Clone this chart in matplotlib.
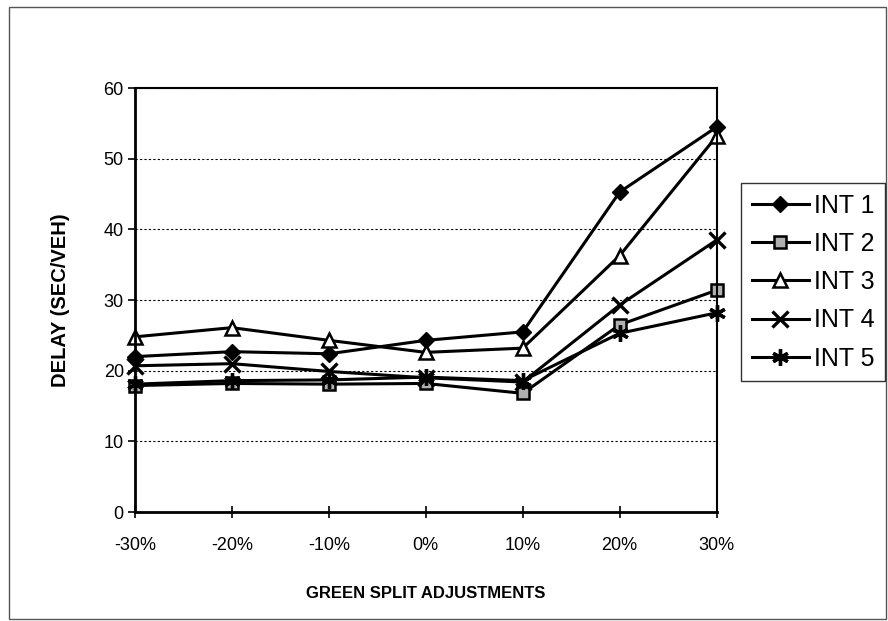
import matplotlib
matplotlib.use("Agg")
import matplotlib.pyplot as plt
from matplotlib.patches import Rectangle

categories = ["-30%", "-20%", "-10%", "0%", "10%", "20%", "30%"]
int1 = [22.0, 22.7, 22.4, 24.3, 25.5, 45.3, 54.5]
int2 = [17.9, 18.2, 18.1, 18.2, 16.8, 26.5, 31.4]
int3 = [24.8, 26.1, 24.3, 22.6, 23.2, 36.3, 53.2]
int4 = [20.7, 21.0, 19.9, 19.0, 18.4, 29.3, 38.5]
int5 = [18.1, 18.6, 18.7, 19.1, 18.6, 25.3, 28.2]
series_names = ["INT 1", "INT 2", "INT 3", "INT 4", "INT 5"]
yticks = [0, 10, 20, 30, 40, 50, 60]

plt.rcParams['font.family'] = ['Liberation Sans', 'DejaVu Sans']

fig = plt.figure(figsize=(8.88, 6.21), dpi=100)
ax = fig.add_axes([0.152, 0.1755, 0.655, 0.6825])

x = list(range(len(categories)))
styles = [
    dict(marker='D', markersize=8, markerfacecolor='black', markeredgecolor='black'),
    dict(marker='s', markersize=9, markerfacecolor='#b0b0b0', markeredgecolor='black', markeredgewidth=1.8),
    dict(marker='^', markersize=10, markerfacecolor='white', markeredgecolor='black', markeredgewidth=1.8),
    dict(marker='x', markersize=11, markeredgecolor='black', markeredgewidth=2.4),
    dict(marker=(6, 2, 0), markersize=12, markeredgecolor='black', markeredgewidth=2.4),
]
for vals, name, st in zip([int1, int2, int3, int4, int5], series_names, styles):
    ax.plot(x, vals, color='black', linewidth=2.2, label=name, **st)

ax.set_xlim(0, len(categories) - 1)
ax.set_ylim(0, 60)
ax.set_yticks(yticks)
ax.set_xticks(x)
ax.set_xticklabels(categories, fontsize=13)
ax.tick_params(axis='y', labelsize=13, direction='out', length=5, width=1.2, pad=3)
ax.tick_params(axis='x', direction='inout', length=8, width=1.2, pad=14)
ax.yaxis.grid(True, linestyle=(0, (2, 2)), color='black', linewidth=0.8)
ax.set_axisbelow(True)
for s in ['left', 'bottom']:
    ax.spines[s].set_linewidth(2.0)
for s in ['top', 'right']:
    ax.spines[s].set_linewidth(1.5)
for line in ax.lines:
    line.set_clip_on(False)

ax.set_ylabel("DELAY (SEC/VEH)", fontsize=14.5, fontweight='bold', labelpad=24)
ax.set_xlabel("GREEN SPLIT ADJUSTMENTS", fontsize=12, fontweight='bold', labelpad=23)

leg = fig.legend(loc='upper left', bbox_to_anchor=(0.8345, 0.7053),
                 bbox_transform=fig.transFigure, borderaxespad=0, fontsize=18,
                 frameon=True, fancybox=False, edgecolor='black', handlelength=2.3,
                 handletextpad=0.2, labelspacing=0.57, borderpad=0.42)
leg.get_frame().set_linewidth(1.0)

fig.patches.append(Rectangle((0.01, 0.003), 0.988, 0.985, transform=fig.transFigure,
                             fill=False, edgecolor='#555555', linewidth=1.0))

fig.savefig("out.png", dpi=100, facecolor='white')
